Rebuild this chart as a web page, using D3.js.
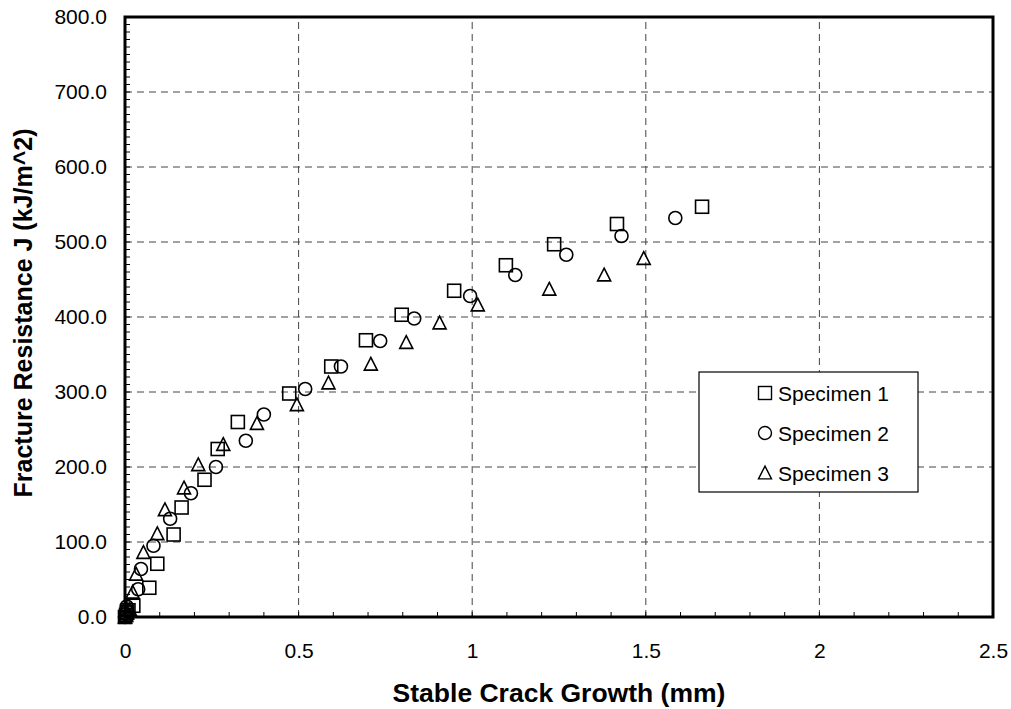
<!DOCTYPE html>
<html>
<head>
<meta charset="utf-8">
<script src="https://cdn.jsdelivr.net/npm/d3@7"></script>
<style>
  html, body { margin: 0; padding: 0; background: #fff; }
  svg { display: block; font-family: "Liberation Sans", Arial, sans-serif; }
</style>
</head>
<body>
<svg id="chart" width="1011" height="709"></svg>
<script>
// Stable crack growth (mm) vs fracture resistance J (kJ/m^2) for three specimens
const spec1X = [0, 0.003, 0.006, 0.010, 0.024, 0.070, 0.093, 0.140, 0.163, 0.229, 0.267, 0.325, 0.473, 0.594, 0.694, 0.797, 0.948, 1.097, 1.236, 1.417, 1.662];
const spec1J = [0, 3, 6, 9, 15, 39, 71, 110, 146, 183, 224, 260, 298, 334, 369, 403, 435, 469, 497, 524, 547];

const spec2X = [0, 0.002, 0.004, 0.005, 0.038, 0.046, 0.082, 0.130, 0.190, 0.262, 0.348, 0.400, 0.519, 0.622, 0.735, 0.833, 0.994, 1.124, 1.271, 1.430, 1.585];
const spec2J = [0, 4, 8, 14, 37, 64, 95, 131, 165, 200, 235, 270, 304, 334, 368, 398, 428, 456, 483, 508, 532];

const spec3X = [0, 0.003, 0.005, 0.014, 0.022, 0.032, 0.053, 0.093, 0.115, 0.170, 0.211, 0.283, 0.380, 0.495, 0.586, 0.708, 0.810, 0.906, 1.016, 1.222, 1.380, 1.494];
const spec3J = [0, 2, 5, 10, 33, 57, 86, 111, 143, 172, 203, 230, 258, 283, 312, 337, 366, 392, 416, 437, 456, 478];

const seriesNames = ["Specimen 1", "Specimen 2", "Specimen 3"];
const seriesShapes = ["square", "circle", "triangle"];

const xTicks = [0, 0.5, 1, 1.5, 2, 2.5];
const yTicks = [0, 100, 200, 300, 400, 500, 600, 700, 800];

const xTitle = "Stable Crack Growth (mm)";
const yTitle = "Fracture Resistance J (kJ/m^2)";

const series = [
  { name: seriesNames[0], shape: seriesShapes[0], pts: spec1X.map((x, i) => [x, spec1J[i]]) },
  { name: seriesNames[1], shape: seriesShapes[1], pts: spec2X.map((x, i) => [x, spec2J[i]]) },
  { name: seriesNames[2], shape: seriesShapes[2], pts: spec3X.map((x, i) => [x, spec3J[i]]) }
];

const svg = d3.select("#chart");
const margin = { left: 125, right: 18, top: 17, bottom: 92 };
const W = 1011, H = 709;
const FONT = "'Liberation Sans', Arial, sans-serif";
const x = d3.scaleLinear().domain([0, 2.5]).range([margin.left, W - margin.right]);
const y = d3.scaleLinear().domain([0, 800]).range([H - margin.bottom, margin.top]);

// dashed grid
const grid = svg.append("g");
grid.selectAll("line.gx").data(xTicks.filter(t => t > 0 && t < 2.5)).enter().append("line")
  .attr("x1", d => x(d)).attr("x2", d => x(d))
  .attr("y1", y(0)).attr("y2", y(800))
  .attr("stroke", "#444").attr("stroke-width", 1).attr("stroke-dasharray", "7,5");
grid.selectAll("line.gy").data(yTicks.filter(t => t > 0 && t < 800)).enter().append("line")
  .attr("x1", x(0)).attr("x2", x(2.5))
  .attr("y1", d => y(d)).attr("y2", d => y(d))
  .attr("stroke", "#444").attr("stroke-width", 1).attr("stroke-dasharray", "7,5");

// minor ticks pointing inward
const xMinor = d3.range(0, 2.5001, 0.1);
const yMinor = d3.range(0, 800.001, 10);
svg.append("g").selectAll("line").data(xMinor).enter().append("line")
  .attr("x1", d => x(d)).attr("x2", d => x(d))
  .attr("y1", y(0)).attr("y2", y(0) - 5)
  .attr("stroke", "#000").attr("stroke-width", 1);
svg.append("g").selectAll("line").data(yMinor).enter().append("line")
  .attr("x1", x(0)).attr("x2", x(0) + 5)
  .attr("y1", d => y(d)).attr("y2", d => y(d))
  .attr("stroke", "#000").attr("stroke-width", 1);

// tick labels via d3 axes
const xAxis = d3.axisBottom(x).tickValues(xTicks).tickSize(0).tickPadding(26)
  .tickFormat(d => d3.format("")(d));
const gx = svg.append("g").attr("transform", `translate(0,${y(0)})`).call(xAxis);
gx.select(".domain").remove();
gx.selectAll("text").attr("font-size", 21).attr("fill", "#000").attr("font-family", FONT);

const yAxis = d3.axisLeft(y).tickValues(yTicks).tickSize(0).tickPadding(18)
  .tickFormat(d3.format(".1f"));
const gy = svg.append("g").attr("transform", `translate(${x(0)},0)`).call(yAxis);
gy.select(".domain").remove();
gy.selectAll("text").attr("font-size", 21).attr("fill", "#000").attr("font-family", FONT);

// frame
svg.append("rect")
  .attr("x", x(0)).attr("y", y(800))
  .attr("width", x(2.5) - x(0)).attr("height", y(0) - y(800))
  .attr("fill", "none").attr("stroke", "#000").attr("stroke-width", 3);

// marker drawing
function drawMarker(g, shape, cx, cy, s) {
  if (shape === "square") {
    g.append("rect").attr("x", cx - s / 2).attr("y", cy - s / 2)
      .attr("width", s).attr("height", s);
  } else if (shape === "circle") {
    g.append("circle").attr("cx", cx).attr("cy", cy).attr("r", s / 2);
  } else {
    const h = s * 0.9;
    g.append("path").attr("d",
      `M${cx},${cy - h / 2 - 1}L${cx + s / 2},${cy + h / 2}L${cx - s / 2},${cy + h / 2}Z`);
  }
}

const plot = svg.append("g").attr("fill", "none").attr("stroke", "#000").attr("stroke-width", 1.6);
series.forEach(s => {
  s.pts.forEach(p => drawMarker(plot, s.shape, x(p[0]), y(p[1]), 13));
});

// legend
const lg = svg.append("g");
lg.append("rect").attr("x", 699).attr("y", 372).attr("width", 219).attr("height", 120)
  .attr("fill", "#fff").attr("stroke", "#000").attr("stroke-width", 1.2);
series.forEach((s, i) => {
  const cy = 393 + i * 40;
  const mg = lg.append("g").attr("fill", "none").attr("stroke", "#000").attr("stroke-width", 1.4);
  drawMarker(mg, s.shape, 765, cy, 13);
  lg.append("text").attr("x", 778).attr("y", cy + 8)
    .attr("font-size", 21).attr("font-family", FONT).attr("fill", "#000").text(s.name);
});

// axis titles
svg.append("text").attr("x", (x(0) + x(2.5)) / 2).attr("y", 702)
  .attr("text-anchor", "middle").attr("font-size", 26.5).attr("font-weight", "bold")
  .attr("font-family", FONT).text(xTitle);
svg.append("text").attr("transform", `translate(32,${(y(0) + y(800)) / 2 - 4}) rotate(-90)`)
  .attr("text-anchor", "middle").attr("font-size", 25).attr("font-weight", "bold")
  .attr("font-family", FONT).text(yTitle);
</script>
</body>
</html>
